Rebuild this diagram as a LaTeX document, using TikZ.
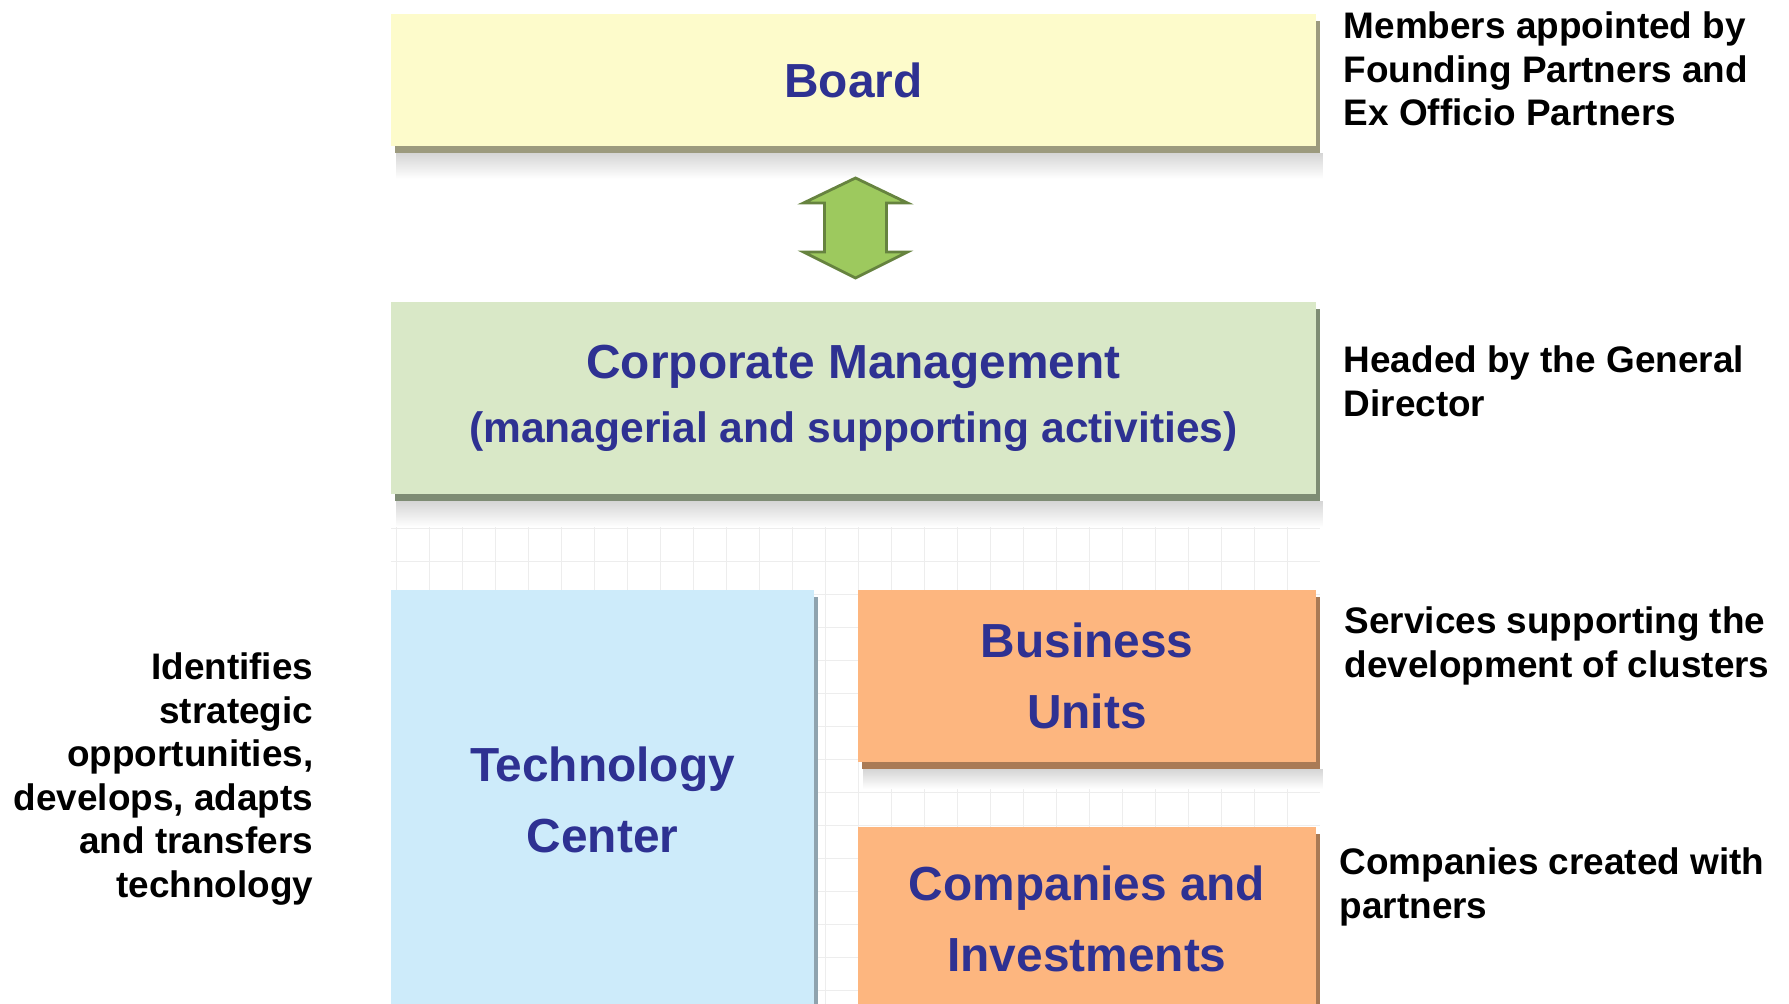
\documentclass[tikz,border=0pt]{standalone}
\usepackage{fontspec}
\setmainfont{Liberation Sans}
\usetikzlibrary{calc,shadows}

\definecolor{boardfill}{HTML}{FDFBCB}
\definecolor{boardedge}{HTML}{9C9A7E}
\definecolor{mgmtfill}{HTML}{D9E8C7}
\definecolor{mgmtedge}{HTML}{7E8C74}
\definecolor{techfill}{HTML}{CDEBFA}
\definecolor{techedge}{HTML}{8FA3AE}
\definecolor{unitfill}{HTML}{FDB67F}
\definecolor{unitedge}{HTML}{A97A55}
\definecolor{titleblue}{HTML}{2E3192}
\definecolor{arrowgreen}{HTML}{9DC95E}
\definecolor{arrowedge}{HTML}{66833F}

\begin{document}
\begin{tikzpicture}[x=0.01cm, y=-0.01cm,
    box/.style={rectangle, inner sep=0pt, align=center, text=titleblue,
        font=\fontsize{13.6}{20.2}\selectfont\bfseries,
        general shadow={fill=#1, shadow xshift=0.04cm, shadow yshift=-0.07cm}},
    note/.style={inner sep=0pt, font=\fontsize{10.5}{12.4}\selectfont\bfseries},
    softshade/.style={top color=black!16, bottom color=white}]
        \useasboundingbox (0,0) rectangle (1789,1004);
        % faint grid behind the lower boxes
        \draw [black!7, step=0.33cm] (391,505) grid (1320,1004);

        \node [box=boardedge, fill=boardfill, minimum width=9.25cm,
            minimum height=1.32cm] (board) at (853.5,80) {Board};
        \node [box=mgmtedge, fill=mgmtfill, minimum width=9.25cm,
            minimum height=1.92cm] (mgmt) at (853.5,398)
            {Corporate Management\\[-2pt]
            {\fontsize{12.1}{17.9}\selectfont(managerial and supporting activities)}};
        \node [box=techedge, fill=techfill, minimum width=4.23cm,
            minimum height=4.2cm] (tech) at (602.5,800) {Technology\\Center};
        \node [box=unitedge, fill=unitfill, minimum width=4.58cm,
            minimum height=1.72cm] (units) at (1087,676) {Business\\Units};
        \node [box=unitedge, fill=unitfill, minimum width=4.58cm,
            minimum height=1.83cm] (invest) at (1087,918.5)
            {Companies and\\Investments};

        % soft shadows under the boxes
        \shade [softshade] ($(board.south west)+(6,7)$) rectangle
            ($(board.south east)+(6,32)$);
        \shade [softshade] ($(mgmt.south west)+(6,7)$) rectangle
            ($(mgmt.south east)+(6,32)$);
        \shade [softshade] ($(units.south west)+(6,7)$) rectangle
            ($(units.south east)+(6,26)$);

        % double arrow between board and management
        \coordinate (link) at ($(board.south)!0.5!(mgmt.north)+(2,4)$);
        \begin{scope}[shift={(link)}]
            \filldraw [fill=arrowgreen, draw=arrowedge, line width=0.8pt]
                (0,-50) -- (52,-25) -- (31,-25) -- (31,24) -- (52,24) --
                (0,50) -- (-52,24) -- (-31,24) -- (-31,-25) -- (-52,-25) -- cycle;
        \end{scope}

        \node [note, anchor=north west, align=left] (boardnote) at (1343,11)
            {Members appointed by\\Founding Partners and\\Ex Officio Partners};
        \node [note, anchor=north west, align=left] (mgmtnote) at (1343,345)
            {Headed by the General\\Director};
        \node [note, anchor=north west, align=left] (unitsnote) at (1344,606)
            {Services supporting the\\development of clusters};
        \node [note, anchor=north west, align=left] (investnote) at (1339,847)
            {Companies created with\\partners};
        \node [note, anchor=north east, align=right] (technote) at (314,652)
            {Identifies\\strategic\\opportunities,\\develops, adapts\\and transfers\\technology};
    \end{tikzpicture}
\end{document}
